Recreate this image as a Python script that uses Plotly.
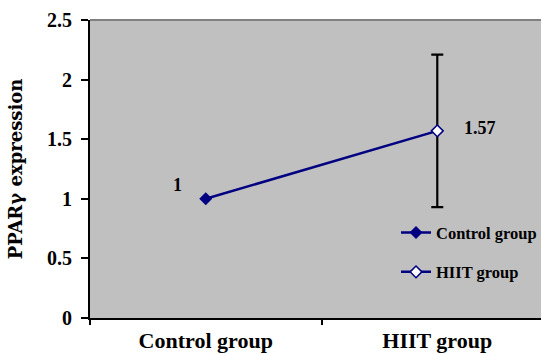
import plotly.graph_objects as go

categories = ["Control group", "HIIT group"]
control_values = [1.0, 1.57]
hiit_x = ["HIIT group"]
hiit_values = [1.57]
hiit_error = [0.64]
label_texts = ["1", "1.57"]
y_ticks = [0, 0.5, 1, 1.5, 2, 2.5]
y_tick_text = ["0", "0.5", "1", "1.5", "2", "2.5"]

NAVY = "#000080"
FONT = "Liberation Serif"

fig = go.Figure()
fig.add_trace(go.Scatter(
    x=categories, y=control_values, name="Control group",
    mode="lines+markers",
    line=dict(color=NAVY, width=2.5),
    marker=dict(symbol="diamond", size=10, color=[NAVY, "rgba(0,0,0,0)"]),
    legendgroup="a",
))
fig.add_trace(go.Scatter(
    x=hiit_x, y=hiit_values, name="HIIT group",
    mode="lines+markers",
    line=dict(color=NAVY, width=2.5),
    marker=dict(symbol="diamond", size=9, color="white", line=dict(color=NAVY, width=1.5)),
    error_y=dict(type="data", array=hiit_error, color="black", thickness=2.2, width=6),
    legendgroup="b",
))

fig.add_annotation(x=categories[0], y=control_values[0], text=label_texts[0], showarrow=False,
                   xshift=-28, yshift=14, font=dict(family=FONT, size=18, color="black", weight="bold"))
fig.add_annotation(x=categories[1], y=control_values[1], text=label_texts[1], showarrow=False,
                   xshift=43, yshift=3, font=dict(family=FONT, size=18, color="black", weight="bold"))

fig.add_shape(type="line", xref="paper", yref="paper", x0=0, x1=1, y0=1, y1=1,
              line=dict(color="#808080", width=2))

fig.update_layout(
    width=542, height=354,
    margin=dict(l=90, r=0, t=20, b=36),
    paper_bgcolor="white", plot_bgcolor="#C0C0C0",
    font=dict(family=FONT, color="black", weight="bold"),
    showlegend=True,
    legend=dict(x=0.679, y=0.345, xanchor="left", yanchor="top", bgcolor="rgba(0,0,0,0)",
                font=dict(family=FONT, size=16.5, weight="bold"), tracegroupgap=15),
    xaxis=dict(type="category", range=[-0.5, 1.448], tickson="boundaries", ticks="outside",
               ticklen=5, tickwidth=2, tickcolor="black", showline=True, linecolor="black",
               linewidth=2, showgrid=False, tickfont=dict(size=22), ticklabelstandoff=2,
               automargin=False),
    yaxis=dict(range=[0, 2.5], tickvals=y_ticks, ticktext=y_tick_text, ticks="outside",
               ticklen=7, tickwidth=2, tickcolor="black", showline=True, linecolor="black",
               linewidth=2, showgrid=False, zeroline=False, tickfont=dict(size=20),
               ticklabelstandoff=5, automargin=False,
               title=dict(text="PPARγ expression",
                          font=dict(family="DejaVu Serif", size=18, weight="bold"), standoff=20)),
)

fig.write_html("out.html", config={"displayModeBar": False},
               post_script="document.body.style.margin='0';document.body.style.overflow='hidden';")
